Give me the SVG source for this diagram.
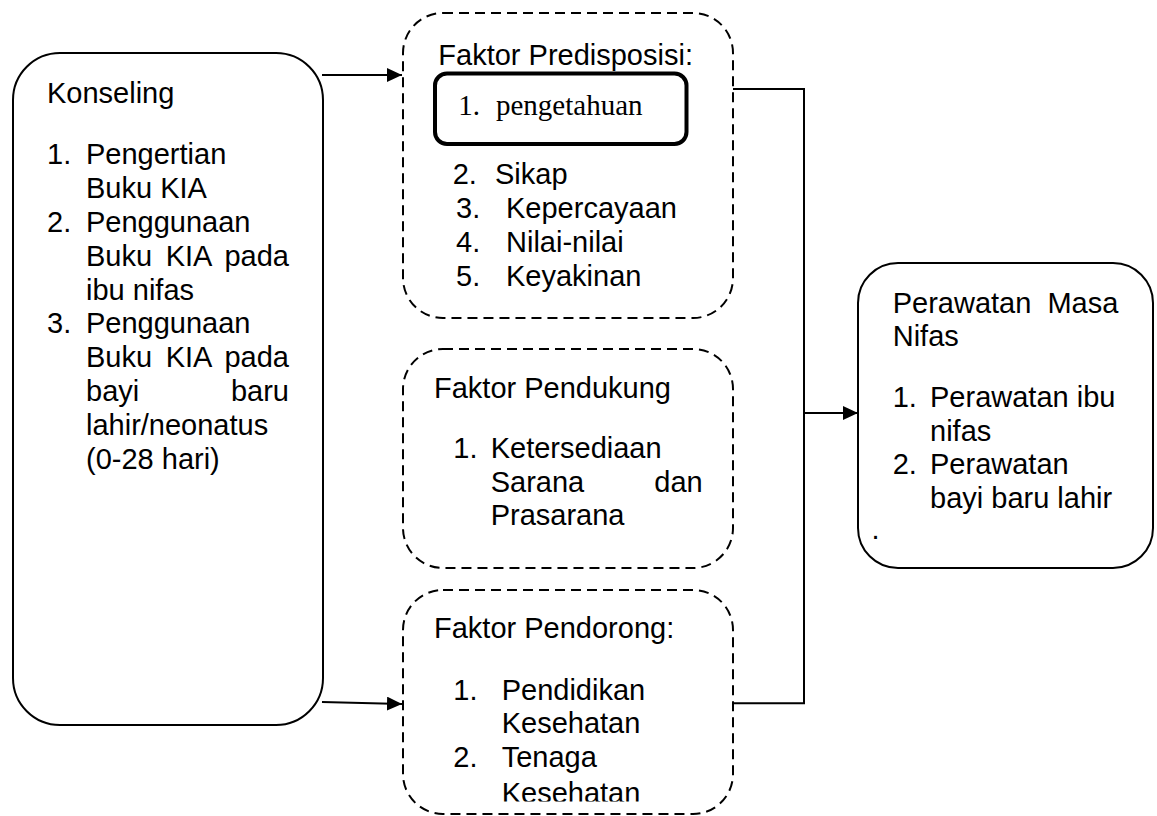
<svg xmlns="http://www.w3.org/2000/svg" width="1157" height="816" viewBox="0 0 1157 816">
<style>
  text { font-family: "Liberation Sans", Arial, sans-serif; font-size: 29px; fill: #000; }
  .serif { font-family: "Liberation Serif", "Times New Roman", serif; }
  .end { text-anchor: end; }
  .solid { fill: #fff; stroke: #000; stroke-width: 2; }
  .dashed { fill: #fff; stroke: #000; stroke-width: 2; stroke-dasharray: 10 6; }
  .inner { fill: none; stroke: #000; stroke-width: 4; }
  .conn { fill: none; stroke: #000; stroke-width: 2; }
</style>
<defs>
  <marker id="arrow" viewBox="0 0 15 14" refX="15" refY="7" markerWidth="15" markerHeight="14" markerUnits="userSpaceOnUse" orient="auto">
    <path d="M0,0 L15,7 L0,14 z" fill="#000"/>
  </marker>
  <clipPath id="clipBottom">
    <rect x="403" y="590" width="330" height="211.5"/>
  </clipPath>
</defs>
<rect width="1157" height="816" fill="#fff"/>

<g id="konseling">
  <rect class="solid" x="13" y="53" width="310" height="672" rx="47" ry="47"/>
  <text x="47" y="103.3">Konseling</text>
  <text x="47" y="164.3">1.</text>
  <text x="86" y="164.3">Pengertian</text>
  <text x="86" y="198.1">Buku KIA</text>
  <text x="47" y="231.9">2.</text>
  <text x="86" y="231.9">Penggunaan</text>
  <text x="86" y="265.7">Buku</text>
  <text x="165.7" y="265.7">KIA</text>
  <text class="end" x="289" y="265.7">pada</text>
  <text x="86" y="299.5">ibu nifas</text>
  <text x="47" y="333.3">3.</text>
  <text x="86" y="333.3">Penggunaan</text>
  <text x="86" y="367.1">Buku</text>
  <text x="165.7" y="367.1">KIA</text>
  <text class="end" x="289" y="367.1">pada</text>
  <text x="86" y="400.9">bayi</text>
  <text class="end" x="289" y="400.9">baru</text>
  <text x="86" y="434.7">lahir/neonatus</text>
  <text x="86" y="468.5">(0-28 hari)</text>
</g>

<g id="predisposisi">
  <rect class="dashed" x="403" y="13" width="330" height="305" rx="40" ry="40"/>
  <text x="438.3" y="65">Faktor Predisposisi:</text>
  <rect class="inner" x="435" y="73.5" width="251.5" height="70.5" rx="12" ry="12"/>
  <text class="serif" x="458.3" y="115">1.</text>
  <text class="serif" x="496" y="115">pengetahuan</text>
  <text x="452.7" y="184.3">2.</text>
  <text x="495" y="184.3">Sikap</text>
  <text x="456" y="218.3">3.</text>
  <text x="506" y="218.3">Kepercayaan</text>
  <text x="456" y="252">4.</text>
  <text x="506" y="252">Nilai-nilai</text>
  <text x="456" y="286">5.</text>
  <text x="506" y="286">Keyakinan</text>
</g>

<g id="pendukung">
  <rect class="dashed" x="403" y="349" width="330" height="219" rx="40" ry="40"/>
  <text x="434" y="398.3">Faktor Pendukung</text>
  <text x="453.3" y="458.3">1.</text>
  <text x="490.7" y="458.3">Ketersediaan</text>
  <text x="490.7" y="491.7">Sarana</text>
  <text class="end" x="702.7" y="491.7">dan</text>
  <text x="490.7" y="525">Prasarana</text>
</g>

<g id="pendorong">
  <rect class="dashed" x="403" y="590" width="330" height="224" rx="40" ry="40"/>
  <g clip-path="url(#clipBottom)">
    <text x="434" y="638.3">Faktor Pendorong:</text>
    <text x="453.3" y="700">1.</text>
    <text x="501.7" y="700">Pendidikan</text>
    <text x="501.7" y="733">Kesehatan</text>
    <text x="453.3" y="766.5">2.</text>
    <text x="501.7" y="766.5">Tenaga</text>
    <text x="501.7" y="803">Kesehatan</text>
  </g>
</g>

<g id="perawatan">
  <rect class="solid" x="858" y="263" width="295" height="305" rx="40" ry="40"/>
  <text x="892.7" y="312.7">Perawatan</text>
  <text class="end" x="1118.3" y="312.7">Masa</text>
  <text x="892.7" y="346">Nifas</text>
  <text x="892.7" y="407.3">1.</text>
  <text x="930" y="407.3">Perawatan ibu</text>
  <text x="930" y="440.5">nifas</text>
  <text x="892.7" y="473.5">2.</text>
  <text x="930" y="473.5">Perawatan</text>
  <text x="930" y="508.3">bayi baru lahir</text>
  <text x="871.5" y="539">.</text>
</g>

<g id="connectors">
  <line class="conn" x1="322" y1="75" x2="402" y2="75" marker-end="url(#arrow)"/>
  <line class="conn" x1="322" y1="702" x2="402" y2="704" marker-end="url(#arrow)"/>
  <polyline class="conn" points="733,89 804,89 804,703.3 733,703.3"/>
  <line class="conn" x1="804" y1="413" x2="858" y2="413" marker-end="url(#arrow)"/>
</g>
</svg>
